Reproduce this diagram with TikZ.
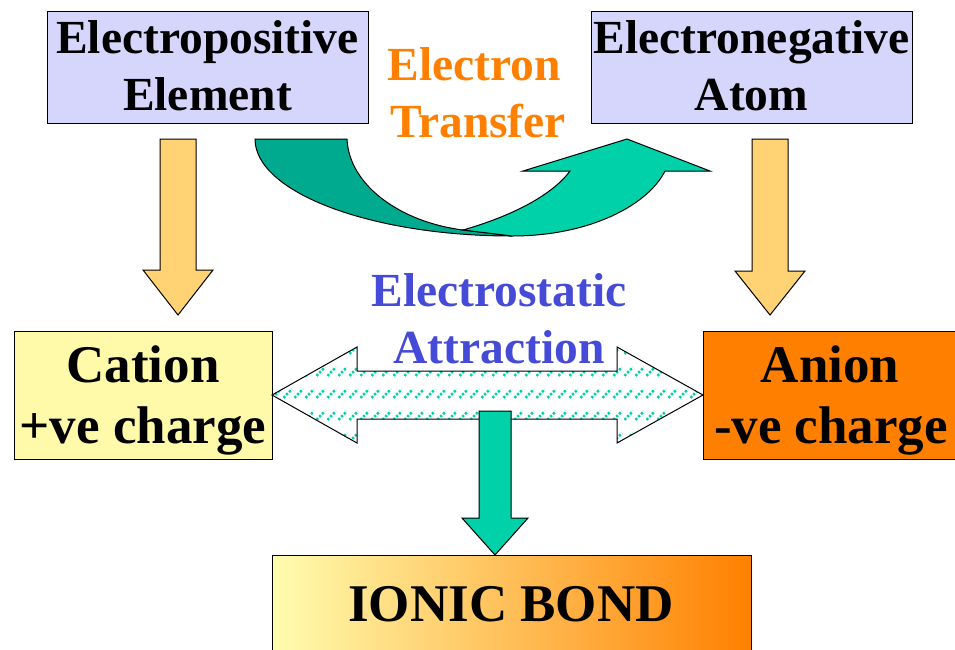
\documentclass[tikz,border=0pt]{standalone}
\usepackage{fontspec}
\setmainfont{Liberation Serif}
\usetikzlibrary{patterns.meta}
\definecolor{lav}{RGB}{214,214,252}
\definecolor{paleyel}{RGB}{255,250,170}
\definecolor{orng}{RGB}{255,128,0}
\definecolor{gold}{RGB}{255,211,115}
\definecolor{tealA}{RGB}{0,209,168}
\definecolor{tealB}{RGB}{0,170,142}
\definecolor{txtblue}{RGB}{70,75,215}
\tikzdeclarepattern{
  name=tealdash,
  type=uncolored,
  bounding box={(0pt,0pt) and (11.3pt,22pt)},
  tile size={(11.3pt,22pt)},
  code={\draw[line width=2.6pt, line cap=butt, dash pattern=on 2.5pt off 1.74pt] (1.5pt,10.5pt) -- (10.5pt,19.5pt);}
}
\tikzset{
  box/.style={draw=black, line width=1pt, inner sep=0pt},
  big/.style={font=\bfseries\fontsize{47.5}{57}\selectfont, anchor=base, inner sep=0pt},
  huge/.style={font=\bfseries\fontsize{53}{61}\selectfont, anchor=base, inner sep=0pt},
  arr/.style={draw=black, line width=1pt, line join=miter},
}
\begin{document}
\begin{tikzpicture}[x=1pt,y=-1pt]
\useasboundingbox (0,0) rectangle (955,649);
\clip (0,0) rectangle (955,649);

% boxes
\node[box, fill=lav, minimum width=321pt, minimum height=112pt] (ep) at (207.5,67) {};
\node[box, fill=lav, minimum width=321pt, minimum height=112pt] (en) at (751.5,67) {};
\node[box, fill=paleyel, minimum width=258pt, minimum height=128pt] (cat) at (143,395) {};
\node[box, fill=orng, minimum width=254pt, minimum height=128pt] (an) at (830,395) {};
\node[box, left color={rgb,255:red,255;green,253;blue,175}, middle color={rgb,255:red,254;green,214;blue,138}, right color=orng, minimum width=479pt, minimum height=97pt] (ib) at (511.5,603.5) {};

% box texts
\node[big] (ep1) at (207.5,53) {Electropositive};
\node[big] (ep2) at (207.5,110) {Element};
\node[big] (en1) at (751.5,53) {Electronegative};
\node[big] (en2) at (751.5,110) {Atom};
\node[huge] (cat1) at (143,382) {Cation};
\node[huge] (cat2) at (143,443) {+ve charge};
\node[huge] (an1) at (830,382) {Anion};
\node[huge] (an2) at (831,443) {-ve charge};
\node[huge] (ib1) at (511,621) {IONIC BOND};

% labels
\node[big, text=orng] (et1) at (474,80) {Electron};
\node[big, text=orng] (et2) at (478,137) {Transfer};
\node[big, text=txtblue] (ea1) at (499,306) {Electrostatic};
\node[big, text=txtblue] (ea2) at (499,363) {Attraction};

% down arrows
\draw[arr, fill=gold] (160,139) -- (196,139) -- (196,270) -- (213,270) -- (178,315) -- (143,270) -- (160,270) -- cycle;
\draw[arr, fill=gold] (752,139) -- (788,139) -- (788,271) -- (805,271) -- (770,315) -- (735,271) -- (752,271) -- cycle;

% electron transfer curved arrow
\draw[arr, fill=tealB] (255,139) -- (347,139) .. controls (349,185) and (400,222) .. (463,230) -- (512,236) .. controls (370,236) and (255,192) .. (255,139) -- cycle;
\draw[arr, fill=tealA] (463,230) .. controls (505,218) and (550,198) .. (570,171) -- (523,171) -- (627,139) -- (710,171) -- (665,171) .. controls (648,205) and (590,236) .. (512,236) -- cycle;

% electrostatic double arrow
\draw[arr, preaction={fill=white}, pattern=tealdash, pattern color=tealA]
  (272,395) -- (357,347) -- (357,371) -- (617,371) -- (617,347) -- (703,395) -- (617,443) -- (617,419) -- (357,419) -- (357,443) -- cycle;

% down arrow to ionic bond
\draw[arr, fill=tealA] (479,411) -- (511,411) -- (511,518) -- (528,518) -- (495,555) -- (462,518) -- (479,518) -- cycle;
\end{tikzpicture}
\end{document}
